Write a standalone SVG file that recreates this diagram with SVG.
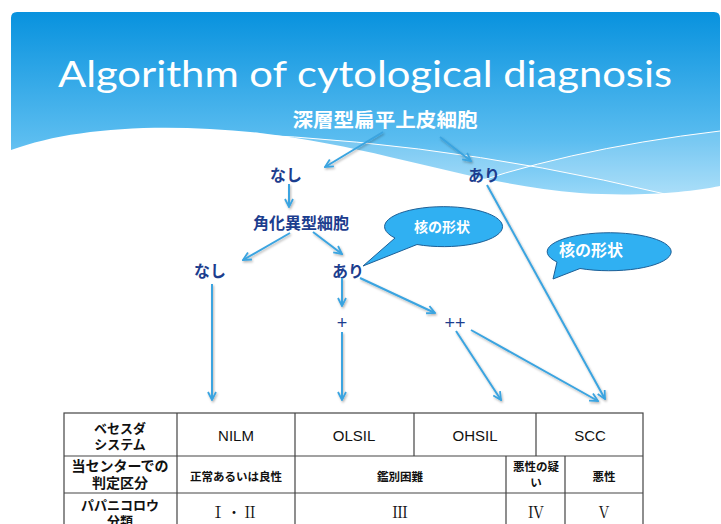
<svg xmlns="http://www.w3.org/2000/svg" width="721" height="524" viewBox="0 0 721 524">
<defs>
<linearGradient id="hdr" x1="0" y1="12" x2="0" y2="196" gradientUnits="userSpaceOnUse">
<stop offset="0" stop-color="#0892de"/>
<stop offset="0.7" stop-color="#5bbdf0"/>
<stop offset="1" stop-color="#9ad8f8"/>
</linearGradient>
<marker id="ah" viewBox="0 0 10 10" refX="9" refY="5" markerWidth="10" markerHeight="10" markerUnits="userSpaceOnUse" orient="auto">
<path d="M1,1 L9,5 L1,9" fill="none" stroke="#3aa4e0" stroke-width="1.8"/>
</marker>
<filter id="sh" x="-20%" y="-20%" width="140%" height="140%">
<feDropShadow dx="1" dy="1.5" stdDeviation="1" flood-color="#000" flood-opacity="0.3"/>
</filter>
</defs>
<style>
.node{font-family:"Noto Sans CJK JP","Noto Sans",sans-serif;font-weight:bold;font-size:16px;fill:#1c3d8e;text-anchor:middle;dominant-baseline:central}
.sym{font-family:"Liberation Sans",sans-serif;font-size:18px;fill:#1c3d8e;text-anchor:middle;dominant-baseline:central}
.conn{fill:none;stroke:#3aa4e0;stroke-width:2;marker-end:url(#ah)}
.bub{fill:#30b0f2;stroke:#1d5f96;stroke-width:1}
.btxt{font-family:"Noto Sans CJK JP",sans-serif;font-weight:bold;font-size:14px;fill:#ffffff;text-anchor:middle;dominant-baseline:central}
.tl{stroke:#444;stroke-width:1.2;fill:none}
.th{font-family:"Noto Sans CJK JP",sans-serif;font-weight:bold;font-size:13px;fill:#111;text-anchor:middle;dominant-baseline:central}
.ts{font-family:"Noto Sans CJK JP",sans-serif;font-weight:bold;font-size:11.5px;fill:#111;text-anchor:middle;dominant-baseline:central}
.te{font-family:"Liberation Sans",sans-serif;font-size:15px;fill:#111;text-anchor:middle;dominant-baseline:central}
.tr{font-family:"Liberation Serif","Noto Serif CJK JP",serif;font-size:16px;fill:#111;text-anchor:middle;dominant-baseline:central}
</style>
<rect width="721" height="524" fill="#ffffff"/>
<g id="header">
<path d="M11,150 C70,128 160,122 260,133 C380,147 470,184 580,193 C640,197 690,192 720,186 L720,18 Q720,12 714,12 L17,12 Q11,12 11,18 Z" fill="url(#hdr)"/>
<path d="M170,132 Q420,135 665,194 C690,193 705,190 720,186 L720,131 Q560,150 445,193 Q420,160 260,133 Z" fill="#ffffff" opacity="0.18"/>
<path d="M170,132 Q420,135 665,194" fill="none" stroke="#ffffff" stroke-width="1"/>
<path d="M445,193 Q560,150 720,131" fill="none" stroke="#ffffff" stroke-width="1"/>
<text x="365" y="87" font-family="Lato,'Liberation Sans',sans-serif" font-size="37" fill="#ffffff" textLength="614" lengthAdjust="spacingAndGlyphs" text-anchor="middle">Algorithm of cytological diagnosis</text>
</g>
<g id="n-root"><text x="385" y="118.5" class="node" style="fill:#ffffff;font-size:19.5px" textLength="185" lengthAdjust="spacingAndGlyphs">深層型扁平上皮細胞</text></g>
<g id="n-nashi1"><text x="286" y="174" class="node">なし</text></g>
<g id="n-ari1"><text x="484" y="174" class="node">あり</text></g>
<g id="n-kaku"><text x="301" y="222" class="node">角化異型細胞</text></g>
<g id="n-nashi2"><text x="210" y="270" class="node">なし</text></g>
<g id="n-ari2"><text x="348" y="270" class="node">あり</text></g>
<g id="n-plus"><text x="342" y="323" class="sym">+</text></g>
<g id="n-plus2"><text x="455" y="323" class="sym">++</text></g>
<g id="callout1">
<path class="bub" d="M395,238 A59,20 0 1 1 417,244.5 L363,266 Z"/>
<text x="442" y="226" class="btxt">核の形状</text>
</g>
<g id="callout2">
<path class="bub" d="M557,262 A62,19 0 1 1 580,268.5 L553,279 Z"/>
<text x="591" y="249" class="btxt" style="font-size:16px">核の形状</text>
</g>
<g id="connectors" filter="url(#sh)">
<line class="conn" x1="383" y1="132" x2="325" y2="167"/>
<line class="conn" x1="440" y1="137" x2="471" y2="161"/>
<line class="conn" x1="289" y1="184" x2="289" y2="207"/>
<line class="conn" x1="290" y1="233" x2="243" y2="260"/>
<line class="conn" x1="313" y1="232" x2="342" y2="254"/>
<line class="conn" x1="487" y1="185" x2="605" y2="399"/>
<line class="conn" x1="212" y1="284" x2="212" y2="400"/>
<line class="conn" x1="342" y1="278" x2="342" y2="306"/>
<line class="conn" x1="342" y1="332" x2="342" y2="400"/>
<line class="conn" x1="360" y1="278" x2="435" y2="313"/>
<line class="conn" x1="456" y1="331" x2="501" y2="400"/>
<line class="conn" x1="471" y1="330" x2="598" y2="401"/>
</g>
<g id="table">
<rect x="64" y="413" width="579" height="120" fill="#ffffff" class="tl"/>
<line class="tl" x1="64" y1="456" x2="643" y2="456"/>
<line class="tl" x1="64" y1="493" x2="643" y2="493"/>
<line class="tl" x1="177" y1="413" x2="177" y2="524"/>
<line class="tl" x1="295" y1="413" x2="295" y2="524"/>
<line class="tl" x1="414" y1="413" x2="414" y2="456"/>
<line class="tl" x1="536" y1="413" x2="536" y2="456"/>
<line class="tl" x1="506" y1="456" x2="506" y2="524"/>
<line class="tl" x1="565" y1="456" x2="565" y2="524"/>
<text class="th" x="120" y="427">ベセスダ<tspan x="120" dy="16">システム</tspan></text>
<text class="th" x="120" y="465" style="font-size:14px">当センターでの<tspan x="120" dy="17">判定区分</tspan></text>
<text class="th" x="120" y="504">パパニコロウ<tspan x="120" dy="16">分類</tspan></text>
<text class="te" x="236" y="435">NILM</text>
<text class="te" x="354" y="435">OLSIL</text>
<text class="te" x="475" y="435">OHSIL</text>
<text class="te" x="590" y="435">SCC</text>
<text class="ts" x="236" y="476">正常あるいは良性</text>
<text class="ts" x="400" y="476">鑑別困難</text>
<text class="ts" x="536" y="466">悪性の疑<tspan x="536" dy="16">い</tspan></text>
<text class="ts" x="604" y="476">悪性</text>
<text class="tr" x="234" y="512">Ⅰ・Ⅱ</text>
<text class="tr" x="400" y="512">Ⅲ</text>
<text class="tr" x="536" y="512">Ⅳ</text>
<text class="tr" x="604" y="512">Ⅴ</text>
</g>
</svg>
